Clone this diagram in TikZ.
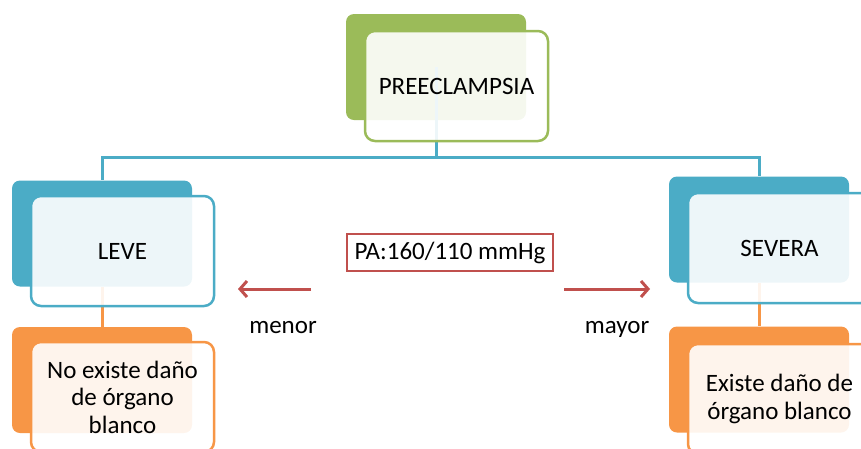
\documentclass[tikz,border=0pt]{standalone}
\usepackage{fontspec}
\setmainfont{Carlito}
\usetikzlibrary{arrows.meta}
\definecolor{grn}{HTML}{9BBB59}
\definecolor{blu}{HTML}{4BACC6}
\definecolor{org}{HTML}{F79646}
\definecolor{rd}{HTML}{C0504D}
\tikzset{
  backbox/.style={rectangle, rounded corners=8pt, minimum width=180pt, minimum height=106pt, inner sep=0pt, draw=none},
  frontbox/.style={rectangle, rounded corners=10pt, minimum width=183pt, minimum height=110pt, inner sep=0pt, fill=white, fill opacity=0.9, text opacity=1, line width=2.5pt, align=center},
  conn/.style={line width=3pt},
  redarrow/.style={draw=rd, line width=3pt, -{Straight Barb[length=7pt,width=16pt]}},
  lbl/.style={anchor=base, inner sep=0pt}
}
\begin{document}
\begin{tikzpicture}[x=1pt,y=-1pt,font=\fontsize{25}{27.5}\selectfont]
\useasboundingbox (0,0) rectangle (861,448);
\clip (0,0) rectangle (861,448);
% back boxes
\node[backbox, fill=grn] (topback) at (436,67) {};
\node[backbox, fill=blu] (leveback) at (102,233.5) {};
\node[backbox, fill=blu] (sevback) at (759,229.5) {};
\node[backbox, fill=org] (noback) at (102,380) {};
\node[backbox, fill=org] (siback) at (759,379.5) {};
% connectors (behind the front boxes)
\coordinate (bus) at (436,157);
\draw[conn, blu] (topback.center) -- (topback.center |- bus) -| (leveback.north);
\draw[conn, blu] (bus) -| (sevback.north);
\draw[conn, org] (leveback.south) -- (noback.north);
\draw[conn, org] (sevback.south) -- (siback.north);
% front boxes
\node[frontbox, draw=grn] (top) at (456.5,86) {PREECLAMPSIA};
\node[frontbox, draw=blu] (leve) at (122.5,251) {LEVE};
\node[frontbox, draw=blu] (severa) at (779.5,248) {SEVERA};
\node[frontbox, draw=org] (no) at (122.5,397) {No existe daño\\de órgano\\blanco};
\node[frontbox, draw=org] (si) at (779.5,399) {Existe daño de\\órgano blanco};
% middle
\node[draw=rd, line width=2pt, minimum width=206pt, minimum height=37pt, inner sep=0pt] (pa) at (450,252.5) {PA:160/110 mmHg};
\coordinate (la1) at (311,289);
\coordinate (la2) at (238,289);
\coordinate (ra1) at (564,289);
\coordinate (ra2) at (650,289);
\draw[redarrow] (la1) -- (la2);
\draw[redarrow] (ra1) -- (ra2);
\node[lbl] (menor) at (283,333) {menor};
\node[lbl] (mayor) at (617,333) {mayor};
\end{tikzpicture}
\end{document}
